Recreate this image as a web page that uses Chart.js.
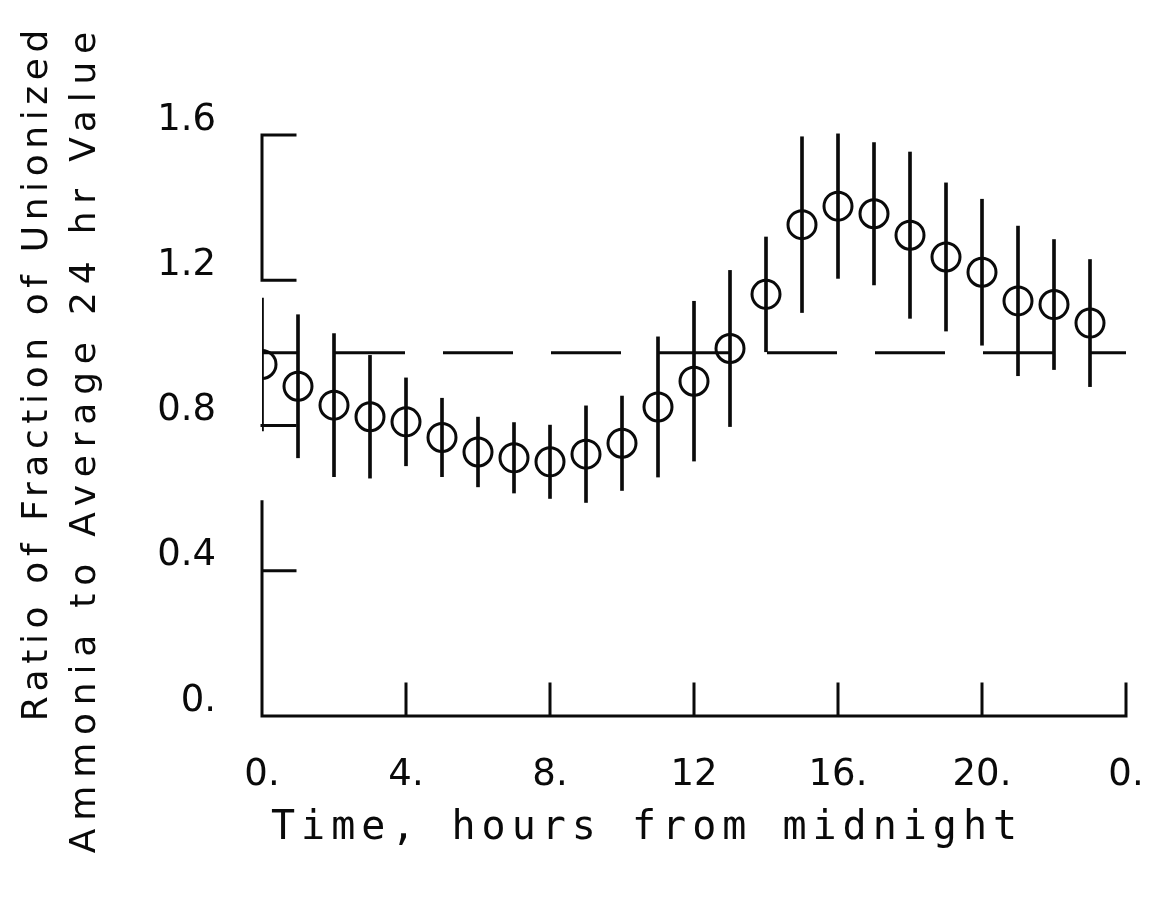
<!DOCTYPE html>
<html>
<head>
<meta charset="utf-8">
<title>Unionized ammonia ratio by hour</title>
<style>
  html, body { margin: 0; padding: 0; background: #ffffff; }
  canvas { display: block; }
</style>
<script src="https://cdn.jsdelivr.net/npm/chart.js@4.4.1/dist/chart.umd.min.js"></script>
</head>
<body>
<canvas id="chart" width="1150" height="903"></canvas>
<script>
// Hour of day (0 = midnight)
const hours = [0, 1, 2, 3, 4, 5, 6, 7, 8, 9, 10, 11, 12, 13, 14, 15, 16, 17, 18, 19, 20, 21, 22, 23];

// Mean ratio of the unionized-ammonia fraction to its 24 hr average
const ratio = [0.968, 0.908, 0.856, 0.824, 0.810, 0.767, 0.727, 0.711, 0.700, 0.721, 0.751, 0.851,
               0.922, 1.012, 1.161, 1.353, 1.404, 1.383, 1.324, 1.264, 1.222, 1.143, 1.133, 1.082];

// Half-length of each vertical bar around the mean
const spread = [0.183, 0.197, 0.197, 0.169, 0.121, 0.108, 0.096, 0.097, 0.101, 0.133, 0.130, 0.193,
                0.220, 0.215, 0.158, 0.242, 0.199, 0.196, 0.229, 0.204, 0.201, 0.206, 0.179, 0.175];

// Level of the 24 hr average itself
const averageLevel = 1.0;

// Axis ticks and their printed labels
const xTickValues = [0, 4, 8, 12, 16, 20, 24];
const xTickLabels = ['0.', '4.', '8.', '12', '16.', '20.', '0.'];
const yTickValues = [0, 0.4, 0.8, 1.2, 1.6];
const yTickLabels = ['0.', '0.4', '0.8', '1.2', '1.6'];

// Stretches of the vertical axis that the pen actually drew
const yAxisRuns = [[0, 0.59], [1.2, 1.6]];

const xTitle = 'Time, hours from midnight';
const yTitle = ['Ratio of Fraction of Unionized', 'Ammonia to Average 24 hr Value'];

const INK = '#0a0a0a';

// Axis lines with inward-pointing ticks, as a pen plotter draws them
const plotterFrame = {
  id: 'plotterFrame',
  beforeDatasetsDraw(chart) {
    const { ctx, scales: { x, y } } = chart;
    const x0 = x.getPixelForValue(xTickValues[0]);
    const x1 = x.getPixelForValue(xTickValues[xTickValues.length - 1]);
    const y0 = y.getPixelForValue(0);
    ctx.save();
    ctx.strokeStyle = INK;
    ctx.lineWidth = 3;
    ctx.lineCap = 'square';
    ctx.beginPath();
    ctx.moveTo(x0, y0);
    ctx.lineTo(x1, y0);
    xTickValues.forEach(v => {
      const px = x.getPixelForValue(v);
      ctx.moveTo(px, y0);
      ctx.lineTo(px, y0 - 32);
    });
    yAxisRuns.forEach(([a, b]) => {
      ctx.moveTo(x0, y.getPixelForValue(a));
      ctx.lineTo(x0, y.getPixelForValue(b));
    });
    yTickValues.forEach(v => {
      const py = y.getPixelForValue(v);
      ctx.moveTo(x0, py);
      ctx.lineTo(x0 + 33, py);
    });
    ctx.stroke();
    ctx.restore();
  }
};

// Axis captions in the widely spaced plotter lettering
const axisCaptions = {
  id: 'axisCaptions',
  afterDraw(chart) {
    const { ctx, chartArea } = chart;
    ctx.save();
    ctx.fillStyle = INK;
    ctx.textBaseline = 'middle';

    ctx.letterSpacing = '6px';
    ctx.font = '40px "DejaVu Sans Mono"';
    ctx.textAlign = 'left';
    ctx.fillText(xTitle, chartArea.left + 9, chartArea.bottom + 113);

    const spacing = ['5.6px', '7.8px'];
    ctx.font = '36px "DejaVu Sans"';
    ctx.translate(38, chartArea.top - 2);
    ctx.rotate(-Math.PI / 2);
    ctx.textAlign = 'right';
    yTitle.forEach((line, i) => {
      ctx.letterSpacing = spacing[i];
      ctx.fillText(line, 0, i * 48);
    });
    ctx.restore();
  }
};

const tickFont = { family: 'DejaVu Sans', size: 37, lineHeight: 1.2 };

new Chart(document.getElementById('chart').getContext('2d'), {
  type: 'bar',
  data: {
    datasets: [
      {
        type: 'scatter',
        label: 'Hourly mean',
        data: hours.map((h, i) => ({ x: h, y: ratio[i] })),
        pointStyle: 'circle',
        pointRadius: 14,
        pointHoverRadius: 14,
        pointBorderWidth: 3,
        pointBackgroundColor: 'rgba(0,0,0,0)',
        pointBorderColor: INK,
        showLine: false,
        order: 0
      },
      {
        type: 'bar',
        label: 'Range',
        data: hours.map((h, i) => ({ x: h, y: [ratio[i] - spread[i], ratio[i] + spread[i]] })),
        backgroundColor: INK,
        borderWidth: 0,
        barThickness: 3,
        grouped: false,
        order: 1
      },
      {
        type: 'line',
        label: '24 hr average',
        data: [
          { x: xTickValues[0], y: averageLevel },
          { x: xTickValues[xTickValues.length - 1], y: averageLevel }
        ],
        borderColor: INK,
        borderWidth: 3,
        borderDash: [70, 38],
        borderDashOffset: 35,
        pointRadius: 0,
        fill: false,
        order: 2
      }
    ]
  },
  options: {
    responsive: false,
    animation: false,
    events: [],
    layout: { padding: { top: 26, right: 24, bottom: 0, left: 0 } },
    plugins: {
      legend: { display: false },
      tooltip: { enabled: false }
    },
    scales: {
      x: {
        type: 'linear',
        min: xTickValues[0],
        max: xTickValues[xTickValues.length - 1],
        offset: false,
        grid: { display: false, drawTicks: false },
        border: { display: false },
        afterBuildTicks: s => { s.ticks = xTickValues.map(v => ({ value: v })); },
        afterFit: s => {
          s.height = 187;
          s.paddingLeft = 0;
          s.paddingRight = 0;
        },
        ticks: {
          autoSkip: false,
          maxRotation: 0,
          padding: 37,
          color: INK,
          font: tickFont,
          callback: (v, i) => xTickLabels[i]
        }
      },
      y: {
        type: 'linear',
        min: 0,
        max: 1.9,
        grid: { display: false, drawTicks: false },
        border: { display: false },
        afterBuildTicks: s => { s.ticks = yTickValues.map(v => ({ value: v })); },
        afterFit: s => {
          s.width = 262;
          s.paddingTop = 0;
          s.paddingBottom = 0;
        },
        ticks: {
          padding: 46,
          labelOffset: -15,
          color: INK,
          font: tickFont,
          callback: (v, i) => yTickLabels[i]
        }
      }
    }
  },
  plugins: [plotterFrame, axisCaptions]
});
</script>
</body>
</html>
